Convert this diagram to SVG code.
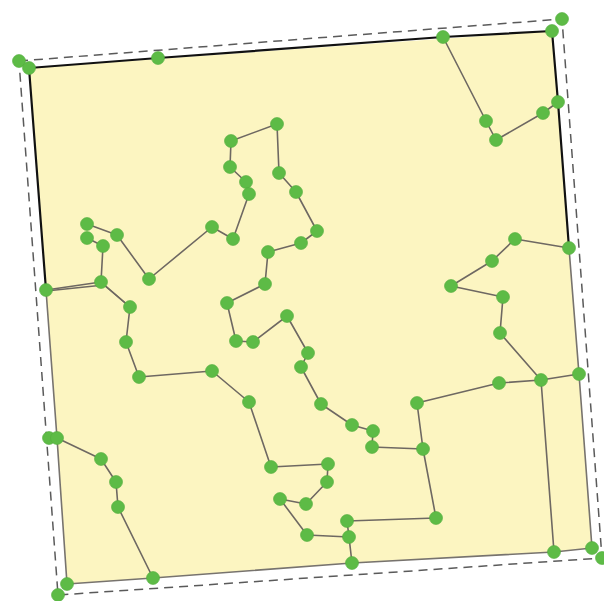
<svg xmlns="http://www.w3.org/2000/svg" width="604" height="601" viewBox="0 0 604 601">
<style>
.nd{fill:#5dbb46;stroke:#52ad3d;stroke-width:0.6}
.ln{fill:none;stroke:#6e6862;stroke-width:1.6;stroke-linecap:round;stroke-linejoin:round}
.edge{fill:none;stroke:#77736e;stroke-width:1.6;stroke-linejoin:round}
.bedge{fill:none;stroke:#111;stroke-width:2.2;stroke-linejoin:round}
.dash{fill:none;stroke:#5a5a5a;stroke-width:1.5;stroke-dasharray:9,6}
</style>
<rect width="604" height="601" fill="#ffffff"/>
<g id="region">
<polygon points="29,68 552,31 558,102 569,248 579,374 592,548 554,552 352,563 153,578 67,584 57,438 46,290" fill="#fcf5c1" stroke="none"/>
<polyline class="bedge" points="46,290 29,68 158,58 443,37 552,31 558,102 569,248"/>
<polyline class="edge" points="569,248 579,374 592,548 554,552 352,563 153,578 67,584 57,438 46,290"/>
<polygon class="dash" points="19,61 562,19 602,558 58,595"/>
</g>
<g id="connectors">
<path class="ln" d="M443,37 L486,121 L496,140 L543,113 L558,102"/>
<path class="ln" d="M249,194 L246,182 L230,167 L231,141 L277,124 L279,173 L296,192 L317,231 L301,243 L268,252 L265,284 L227,303 L236,341 L253,342 L287,316 L308,353 L301,367 L321,404 L352,425 L373,431 L372,447 L423,449 L417,403 L499,383 L541,380 L579,374"/>
<path class="ln" d="M423,449 L436,518"/>
<path class="ln" d="M541,380 L500,333 L503,297 L451,286 L492,261 L515,239 L569,248"/>
<path class="ln" d="M541,380 L554,552"/>
<path class="ln" d="M249,194 L233,239 L212,227 L149,279 L117,235 L87,224"/>
<path class="ln" d="M87,238 L103,246 L101,282"/>
<path class="ln" d="M46,290 L101,282 L130,307"/>
<path class="ln" d="M46,291 L104,285 L131,308"/>
<path class="ln" d="M130,307 L126,342 L139,377 L212,371 L249,402 L271,467 L328,464 L327,482 L306,504 L280,499 L307,535 L349,537 L347,521 L436,518"/>
<path class="ln" d="M349,537 L352,563"/>
<path class="ln" d="M57,438 L101,459 L116,482 L118,507 L153,578"/>
</g>
<g id="n1"><circle class="nd" cx="19" cy="61" r="6.5"/></g>
<g id="n2"><circle class="nd" cx="29" cy="68" r="6.5"/></g>
<g id="n3"><circle class="nd" cx="158" cy="58" r="6.5"/></g>
<g id="n4"><circle class="nd" cx="443" cy="37" r="6.5"/></g>
<g id="n5"><circle class="nd" cx="552" cy="31" r="6.5"/></g>
<g id="n6"><circle class="nd" cx="562" cy="19" r="6.5"/></g>
<g id="n7"><circle class="nd" cx="558" cy="102" r="6.5"/></g>
<g id="n8"><circle class="nd" cx="543" cy="113" r="6.5"/></g>
<g id="n9"><circle class="nd" cx="486" cy="121" r="6.5"/></g>
<g id="n10"><circle class="nd" cx="496" cy="140" r="6.5"/></g>
<g id="n11"><circle class="nd" cx="277" cy="124" r="6.5"/></g>
<g id="n12"><circle class="nd" cx="231" cy="141" r="6.5"/></g>
<g id="n13"><circle class="nd" cx="230" cy="167" r="6.5"/></g>
<g id="n14"><circle class="nd" cx="246" cy="182" r="6.5"/></g>
<g id="n15"><circle class="nd" cx="249" cy="194" r="6.5"/></g>
<g id="n16"><circle class="nd" cx="279" cy="173" r="6.5"/></g>
<g id="n17"><circle class="nd" cx="296" cy="192" r="6.5"/></g>
<g id="n18"><circle class="nd" cx="317" cy="231" r="6.5"/></g>
<g id="n19"><circle class="nd" cx="301" cy="243" r="6.5"/></g>
<g id="n20"><circle class="nd" cx="268" cy="252" r="6.5"/></g>
<g id="n21"><circle class="nd" cx="265" cy="284" r="6.5"/></g>
<g id="n22"><circle class="nd" cx="227" cy="303" r="6.5"/></g>
<g id="n23"><circle class="nd" cx="236" cy="341" r="6.5"/></g>
<g id="n24"><circle class="nd" cx="253" cy="342" r="6.5"/></g>
<g id="n25"><circle class="nd" cx="287" cy="316" r="6.5"/></g>
<g id="n26"><circle class="nd" cx="308" cy="353" r="6.5"/></g>
<g id="n27"><circle class="nd" cx="301" cy="367" r="6.5"/></g>
<g id="n28"><circle class="nd" cx="321" cy="404" r="6.5"/></g>
<g id="n29"><circle class="nd" cx="352" cy="425" r="6.5"/></g>
<g id="n30"><circle class="nd" cx="373" cy="431" r="6.5"/></g>
<g id="n31"><circle class="nd" cx="372" cy="447" r="6.5"/></g>
<g id="n32"><circle class="nd" cx="423" cy="449" r="6.5"/></g>
<g id="n33"><circle class="nd" cx="417" cy="403" r="6.5"/></g>
<g id="n34"><circle class="nd" cx="499" cy="383" r="6.5"/></g>
<g id="n35"><circle class="nd" cx="541" cy="380" r="6.5"/></g>
<g id="n36"><circle class="nd" cx="579" cy="374" r="6.5"/></g>
<g id="n37"><circle class="nd" cx="500" cy="333" r="6.5"/></g>
<g id="n38"><circle class="nd" cx="503" cy="297" r="6.5"/></g>
<g id="n39"><circle class="nd" cx="451" cy="286" r="6.5"/></g>
<g id="n40"><circle class="nd" cx="492" cy="261" r="6.5"/></g>
<g id="n41"><circle class="nd" cx="515" cy="239" r="6.5"/></g>
<g id="n42"><circle class="nd" cx="569" cy="248" r="6.5"/></g>
<g id="n43"><circle class="nd" cx="212" cy="227" r="6.5"/></g>
<g id="n44"><circle class="nd" cx="233" cy="239" r="6.5"/></g>
<g id="n45"><circle class="nd" cx="149" cy="279" r="6.5"/></g>
<g id="n46"><circle class="nd" cx="117" cy="235" r="6.5"/></g>
<g id="n47"><circle class="nd" cx="87" cy="224" r="6.5"/></g>
<g id="n48"><circle class="nd" cx="87" cy="238" r="6.5"/></g>
<g id="n49"><circle class="nd" cx="103" cy="246" r="6.5"/></g>
<g id="n50"><circle class="nd" cx="101" cy="282" r="6.5"/></g>
<g id="n51"><circle class="nd" cx="46" cy="290" r="6.5"/></g>
<g id="n52"><circle class="nd" cx="130" cy="307" r="6.5"/></g>
<g id="n53"><circle class="nd" cx="126" cy="342" r="6.5"/></g>
<g id="n54"><circle class="nd" cx="139" cy="377" r="6.5"/></g>
<g id="n55"><circle class="nd" cx="212" cy="371" r="6.5"/></g>
<g id="n56"><circle class="nd" cx="249" cy="402" r="6.5"/></g>
<g id="n57"><circle class="nd" cx="271" cy="467" r="6.5"/></g>
<g id="n58"><circle class="nd" cx="328" cy="464" r="6.5"/></g>
<g id="n59"><circle class="nd" cx="327" cy="482" r="6.5"/></g>
<g id="n60"><circle class="nd" cx="306" cy="504" r="6.5"/></g>
<g id="n61"><circle class="nd" cx="280" cy="499" r="6.5"/></g>
<g id="n62"><circle class="nd" cx="307" cy="535" r="6.5"/></g>
<g id="n63"><circle class="nd" cx="349" cy="537" r="6.5"/></g>
<g id="n64"><circle class="nd" cx="347" cy="521" r="6.5"/></g>
<g id="n65"><circle class="nd" cx="436" cy="518" r="6.5"/></g>
<g id="n66"><circle class="nd" cx="352" cy="563" r="6.5"/></g>
<g id="n67"><circle class="nd" cx="554" cy="552" r="6.5"/></g>
<g id="n68"><circle class="nd" cx="592" cy="548" r="6.5"/></g>
<g id="n69"><circle class="nd" cx="602" cy="558" r="6.5"/></g>
<g id="n70"><circle class="nd" cx="49" cy="438" r="6.5"/></g>
<g id="n71"><circle class="nd" cx="57" cy="438" r="6.5"/></g>
<g id="n72"><circle class="nd" cx="101" cy="459" r="6.5"/></g>
<g id="n73"><circle class="nd" cx="116" cy="482" r="6.5"/></g>
<g id="n74"><circle class="nd" cx="118" cy="507" r="6.5"/></g>
<g id="n75"><circle class="nd" cx="153" cy="578" r="6.5"/></g>
<g id="n76"><circle class="nd" cx="67" cy="584" r="6.5"/></g>
<g id="n77"><circle class="nd" cx="58" cy="595" r="6.5"/></g>
</svg>
